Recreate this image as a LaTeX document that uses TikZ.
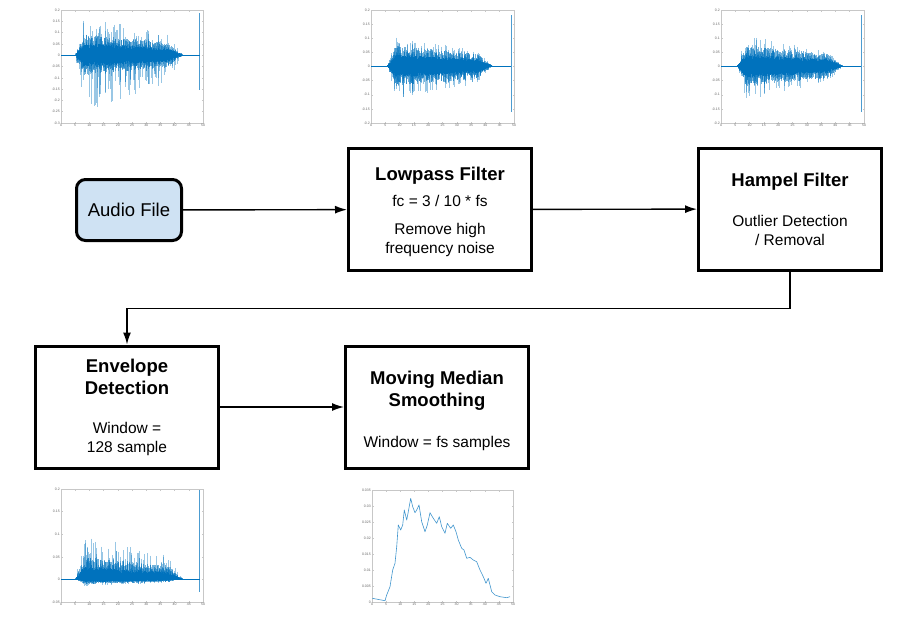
\documentclass[tikz,border=0pt]{standalone}
\usepackage{fontspec}
\setmainfont{Liberation Sans}
\usetikzlibrary{arrows.meta}

\definecolor{wavecol}{HTML}{0072BD}
\definecolor{filecol}{HTML}{CFE2F3}

\newcommand\blocktitle[1]{{\fontsize{18.5}{22}\selectfont\bfseries #1}}

% axes of one small plot: id, left, top, right, bottom, y intervals, y labels
\newcommand\plotaxes[7]{%
  \draw[axisframe] (#2,#3) rectangle (#4,#5);
  \foreach \v [count=\i from 0] in {#7}{
    \pgfmathsetmacro\yy{#3+(#5-#3)*\i/#6}
    \draw[axisframe] (#2,\yy) -- ++(1.5,0) (#4,\yy) -- ++(-1.5,0);
    \node[ticklabel, anchor=east] (#1y\i) at (#2,\yy) {\v};
  }
  \foreach \v [count=\i from 0] in {0,5,...,50}{
    \pgfmathsetmacro\xx{#2+(#4-#2)*\i/10}
    \draw[axisframe] (\xx,#5) -- ++(0,-1.5) (\xx,#3) -- ++(0,1.5);
    \node[ticklabel, anchor=north] (#1x\i) at (\xx,#5) {\v};
  }
}

% noisy trace: start, end, zero, up, down, spike up, spike down
\newcommand\wavetrace[7]{%
  % faint outliers
  \foreach \k in {1,...,300}{
    \pgfmathsetmacro\tpos{rnd}
    \pgfmathsetmacro\xx{#1+(#2-#1)*\tpos}
    \pgfmathsetmacro\env{min(1,\tpos*12)*(1-0.6*\tpos)*min(1,(1-\tpos)*7)}
    \pgfmathsetmacro\wup{#6*\env*rnd^2.2}
    \pgfmathsetmacro\wdn{#7*\env*rnd^2.2}
    \draw[spike] (\xx,#3-\wup) -- (\xx,#3+\wdn);
  }
  % fringe
  \foreach \k in {0,...,240}{
    \pgfmathsetmacro\tpos{\k/240}
    \pgfmathsetmacro\xx{#1+(#2-#1)*\tpos}
    \pgfmathsetmacro\env{min(1,\tpos*12)*(1-0.5*\tpos)*min(1,(1-\tpos)*7)}
    \pgfmathsetmacro\wup{#4*\env*(0.8+1.0*rnd)}
    \pgfmathsetmacro\wdn{#5*\env*(0.8+1.0*rnd)}
    \draw[fringe] (\xx,#3-\wup) -- (\xx,#3+\wdn);
  }
  % dense core
  \foreach \k in {0,...,240}{
    \pgfmathsetmacro\tpos{\k/240}
    \pgfmathsetmacro\xx{#1+(#2-#1)*\tpos}
    \pgfmathsetmacro\env{min(1,\tpos*12)*(1-0.5*\tpos)*min(1,(1-\tpos)*7)}
    \pgfmathsetmacro\wup{#4*\env*(0.6+0.4*rnd)}
    \pgfmathsetmacro\wdn{#5*\env*(0.6+0.4*rnd)}
    \draw[wave] (\xx,#3-\wup) -- (\xx,#3+\wdn);
  }
}

\begin{document}
\begin{tikzpicture}[x=1pt, y=-1pt,
  block/.style={draw, line width=3pt, minimum width=183pt, minimum height=122pt,
    align=center, font=\fontsize{15.5}{19}\selectfont},
  source/.style={draw, line width=3pt, rounded corners=9pt, fill=filecol,
    minimum width=105pt, minimum height=61pt, font=\fontsize{18.5}{22}\selectfont},
  conn/.style={line width=1.4pt, -{Latex[length=12pt,width=8pt]}},
  axisframe/.style={draw=black!22, line width=0.5pt},
  ticklabel/.style={font=\fontsize{3.5}{3.5}\selectfont, text=black!60, inner sep=1pt},
  wave/.style={draw=wavecol, line width=0.55pt},
  fringe/.style={draw=wavecol, draw opacity=0.55, line width=0.4pt},
  spike/.style={draw=wavecol, draw opacity=0.4, line width=0.3pt},
  marker/.style={draw=wavecol, draw opacity=0.7, line width=0.4pt},
  smooth trace/.style={draw=wavecol!75, line width=0.6pt, line join=round}]

\useasboundingbox (0,0) rectangle (922,624);
\pgfmathsetseed{11}

% processing blocks
\node[source] (audio) at (129,210) {Audio File};
\node[block] (lowpass) at (440,209.5) {{}\\[0pt] \blocktitle{Lowpass Filter}\\[7pt] fc = 3 / 10 * fs\\[9pt] Remove high\\ frequency noise};
\node[block] (hampel) at (790,209) {\blocktitle{Hampel Filter}\\[21pt] Outlier Detection\\ / Removal};
\node[block] (envelope) at (127,407) {\blocktitle{Envelope}\\[3pt] \blocktitle{Detection}\\[20pt] Window =\\ 128 sample};
\node[block] (median) at (437,407) {{}\\[3pt] \blocktitle{Moving Median}\\[3pt] \blocktitle{Smoothing}\\[22pt] Window = fs samples};

\draw[conn] (audio) -- (lowpass);
\draw[conn] (lowpass) -- (hampel);
\draw[conn] (hampel.south) -- ++(0,37) -| (envelope.north);
\draw[conn] (envelope) -- (median);

% raw audio
\plotaxes{raw}{61}{10}{203}{123}{10}{0.2,0.15,0.1,0.05,0,-0.05,-0.1,-0.15,-0.2,-0.25,-0.3}
\draw[wave, line width=0.5pt] (61,55) -- (200,55);
\wavetrace{75}{183}{55}{12}{12}{42}{60}
\draw[marker] (199,13) -- (199,90);

% after lowpass
\plotaxes{low}{371}{10}{514}{123}{8}{0.2,0.15,0.1,0.05,0,-0.05,-0.1,-0.15,-0.2}
\draw[wave, line width=0.5pt] (371,66) -- (511,66);
\wavetrace{387}{493}{66}{12}{12}{32}{36}
\draw[marker] (511,15) -- (511,112);

% after hampel
\plotaxes{ham}{721}{10}{864}{123}{8}{0.2,0.15,0.1,0.05,0,-0.05,-0.1,-0.15,-0.2}
\draw[wave, line width=0.5pt] (721,66) -- (861,66);
\wavetrace{737}{843}{66}{12}{12}{32}{36}
\draw[marker] (861,15) -- (861,112);

% envelope
\plotaxes{env}{61}{489}{203}{602}{5}{0.2,0.15,0.1,0.05,0,-0.05}
\draw[wave, line width=0.5pt] (61,579) -- (200,579);
\wavetrace{75}{183}{579}{13}{3}{48}{8}
\draw[marker] (199,490) -- (199,592);

% smoothed
\plotaxes{med}{372}{490}{513}{602}{7}{0.035,0.03,0.025,0.02,0.015,0.01,0.005,0}
\draw[smooth trace] (372.3,598.3) -- (385,600.7) -- (386.7,595) -- (390,586.7) -- (392.7,570)
  -- (395,563.3) -- (396.7,546.7) -- (398.3,525) -- (400.7,530) -- (402.7,525) -- (404.3,510)
  -- (406.7,520) -- (408.3,511.7) -- (410.7,498.3) -- (412.7,506.7) -- (415,512.7) -- (416.7,510)
  -- (419,505) -- (421.7,521.7) -- (425,531.7) -- (427.3,525) -- (430,512.7) -- (433.3,518.3)
  -- (436.7,523.3) -- (439.3,516.7) -- (441.7,526.7) -- (445,533.3) -- (447.3,523.3) -- (450.7,528.3)
  -- (453.3,525) -- (456,531.7) -- (458.3,540) -- (461.7,548.3) -- (464,550) -- (466.7,558.3)
  -- (470,557.3) -- (473.3,560) -- (476.7,561.7) -- (480,570) -- (483.3,576.7) -- (486,583.3)
  -- (488.3,578.3) -- (491.7,591.7) -- (495,595) -- (500,596.7) -- (506.7,597.7) -- (510,596.7);

\end{tikzpicture}
\end{document}
